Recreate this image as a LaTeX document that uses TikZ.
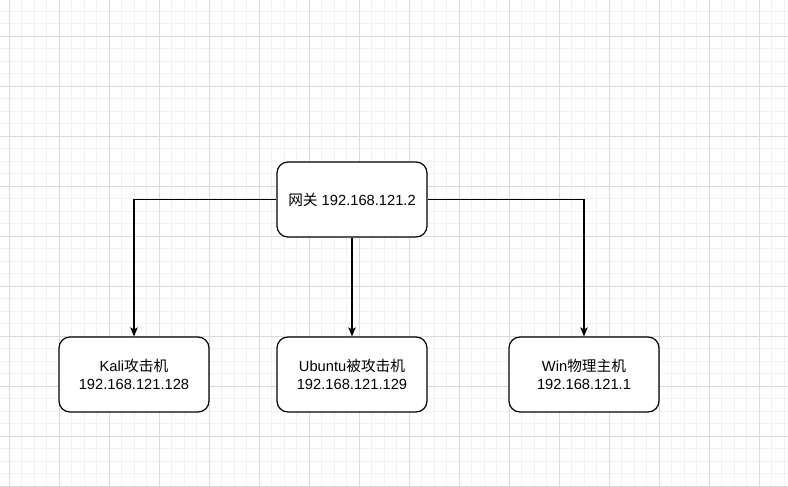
\documentclass[tikz,border=0pt]{standalone}
\usepackage{fontspec}
\setmainfont{Liberation Sans}
\newfontfamily\cjk{Noto Sans CJK SC}
\usetikzlibrary{arrows.meta,positioning}
\newcommand{\zh}[1]{{\cjk #1}}
\definecolor{gridminor}{HTML}{F1F1F1}
\definecolor{gridmajor}{HTML}{DADADA}

\begin{document}
\begin{tikzpicture}[x=1pt,y=-1pt,on grid,node distance=175pt,
      host/.style={draw,rounded corners=11pt,line width=1.2pt,fill=white,
        minimum width=150pt,minimum height=75pt,align=center,
        font=\fontsize{14.7}{17.5}\selectfont},
      link/.style={line width=1.2pt,-{Stealth[length=9pt,width=7.5pt,inset=2pt]}}]
			\useasboundingbox (0,0) rectangle (788,487);
			% background grid
			\foreach \i in {0,...,62}
				\draw[gridminor,line width=0.8pt] ({9.3+12.5*\i},0) -- ({9.3+12.5*\i},487);
			\foreach \j in {0,...,38}
				\draw[gridminor,line width=0.8pt] (0,{11+12.5*\j}) -- (788,{11+12.5*\j});
			\foreach \i in {0,...,15}
				\draw[gridmajor,line width=0.8pt] ({9.3+50*\i},0) -- ({9.3+50*\i},487);
			\foreach \j in {0,...,9}
				\draw[gridmajor,line width=0.8pt] (0,{36+50*\j}) -- (788,{36+50*\j});
			% hosts
			\node[host] (gw) at (352,199.5) {\zh{网关} 192.168.121.2};
			\node[host] (ubuntu) [below=of gw] {Ubuntu\zh{被攻击机}\\192.168.121.129};
			\node[host] (kali) [left=218pt of ubuntu] {Kali\zh{攻击机}\\192.168.121.128};
			\node[host] (win) [right=232pt of ubuntu] {Win\zh{物理主机}\\192.168.121.1};
			\draw[link] (gw.west) -| (kali.north);
			\draw[link] (gw.south) -- (ubuntu.north);
			\draw[link] (gw.east) -| (win.north);
		\end{tikzpicture}
\end{document}
